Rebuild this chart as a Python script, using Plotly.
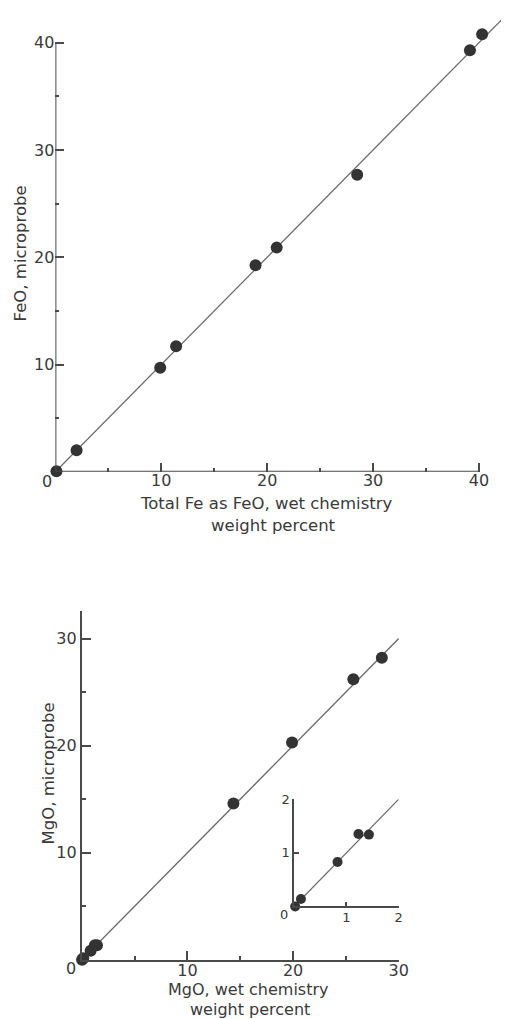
import plotly.graph_objects as go

# ---------------- data ----------------
fe_wet = [0.1, 2.0, 9.9, 11.4, 18.9, 20.9, 28.5, 39.15, 40.3]
fe_probe = [0.05, 2.0, 9.7, 11.7, 19.25, 20.9, 27.7, 39.3, 40.8]

mg_wet = [0.02, 0.13, 0.83, 1.23, 1.43, 14.35, 19.9, 25.7, 28.4]
mg_probe = [0.0, 0.14, 0.83, 1.35, 1.34, 14.6, 20.3, 26.2, 28.2]

mg_inset_wet = [0.02, 0.13, 0.83, 1.23, 1.43]
mg_inset_probe = [0.0, 0.14, 0.83, 1.35, 1.34]

fe_line = [0, 45]
mg_line = [0, 30]
inset_line = [0, 2]

fe_major = [10, 20, 30, 40]
fe_minor = [5, 15, 25, 35]
mg_major = [10, 20, 30]
mg_minor = [5, 15, 25]
inset_major = [1, 2]

W, H = 511, 1019
FONT = "DejaVu Sans"
TXT = "#3a3a3a"
AX = "#4a4a4a"
MK = "#333333"
LN = "#6a6a6a"


def px(p):
    return p / W


def py(p):
    return 1 - p / H


fig = go.Figure()

# 1:1 lines
fig.add_trace(go.Scatter(x=fe_line, y=fe_line, mode="lines",
                         line=dict(color=LN, width=1.3), xaxis="x", yaxis="y"))
fig.add_trace(go.Scatter(x=mg_line, y=mg_line, mode="lines",
                         line=dict(color=LN, width=1.3), xaxis="x2", yaxis="y2"))
fig.add_trace(go.Scatter(x=inset_line, y=inset_line, mode="lines",
                         line=dict(color=LN, width=1.2), xaxis="x3", yaxis="y3"))

# points
fig.add_trace(go.Scatter(x=fe_wet, y=fe_probe, mode="markers", cliponaxis=False,
                         marker=dict(color=MK, size=12), xaxis="x", yaxis="y"))
fig.add_trace(go.Scatter(x=mg_wet, y=mg_probe, mode="markers", cliponaxis=False,
                         marker=dict(color=MK, size=12), xaxis="x2", yaxis="y2"))
fig.add_trace(go.Scatter(x=mg_inset_wet, y=mg_inset_probe, mode="markers", cliponaxis=False,
                         marker=dict(color=MK, size=10), xaxis="x3", yaxis="y3"))

tickfont = dict(family=FONT, size=16, color=TXT)
small_tickfont = dict(family=FONT, size=13, color=TXT)


def axis(domain, rng, major, minor, anchor, showline, tl=9, font=tickfont, lw=2, standoff=0):
    d = dict(domain=domain, range=rng, anchor=anchor, showgrid=False, zeroline=False,
             showline=showline, linecolor=AX, linewidth=lw,
             tickmode="array", tickvals=major, ticktext=[str(v) for v in major],
             ticks="inside", ticklen=tl, tickwidth=1.5, tickcolor=AX,
             tickfont=font, fixedrange=True, ticklabelstandoff=standoff)
    if minor:
        d["minor"] = dict(tickmode="array", tickvals=minor, ticks="inside", ticklen=4,
                          tickwidth=1.5, tickcolor=AX, showgrid=False)
    return d


# top panel (FeO)
x0_top, scale_top = 56.5, 10.8
fig.update_layout(
    xaxis=axis([px(x0_top), 1.0], [0, (W - x0_top) / scale_top], fe_major, fe_minor, "y",
               False, standoff=-3),
    yaxis=axis([py(468), 1.0], [0, 468 / scale_top], fe_major, fe_minor, "x", False),
    xaxis2=axis([px(83.5), px(406.7)], [0, 30], mg_major, mg_minor, "y2", True, standoff=-5),
    yaxis2=axis([py(959.3), py(608)], [0, (959.3 - 608) / 10.78], mg_major, mg_minor, "x2", True),
    xaxis3=axis([px(300), px(406.7)], [0, 2], inset_major, None, "y3", True, tl=5,
                font=small_tickfont, lw=1.5, standoff=-2),
    yaxis3=axis([py(905.7), py(797.7)], [0, 2], inset_major, None, "x3", True, tl=5,
                font=small_tickfont, lw=1.5),
)

# axis lines for top panel (stop at the last tick, as in the original)
fig.add_shape(type="line", xref="x", yref="y", x0=0, y0=0, x1=40, y1=0,
              line=dict(color=AX, width=2))
fig.add_shape(type="line", xref="x", yref="y", x0=0, y0=0, x1=0, y1=40,
              line=dict(color=AX, width=2))

title_font = dict(family=FONT, size=16.5, color=TXT)
title_font_b = dict(family=FONT, size=16, color=TXT)
C = dict(showarrow=False, xanchor="center", yanchor="middle")
ann = []
# origin zero labels
ann.append(dict(x=0, y=0, xref="x", yref="y", text="0", font=tickfont,
                xshift=-8.5, yshift=-10, **C))
ann.append(dict(x=0, y=0, xref="x2", yref="y2", text="0", font=tickfont,
                xshift=-10.5, yshift=-9, **C))
ann.append(dict(x=0, y=0, xref="x3", yref="y3", text="0", font=small_tickfont,
                xshift=-10, yshift=-8, **C))
# axis titles
ann.append(dict(x=px(271.5), y=py(500), xref="paper", yref="paper",
                text="Total Fe as FeO, wet chemistry", font=title_font, **C))
ann.append(dict(x=px(279), y=py(522), xref="paper", yref="paper",
                text="weight percent", font=title_font, **C))
ann.append(dict(x=px(20.5), y=py(248), xref="paper", yref="paper", textangle=-90,
                text="FeO, microprobe", font=title_font, **C))
ann.append(dict(x=px(252.5), y=py(989.5), xref="paper", yref="paper",
                text="MgO, wet chemistry", font=title_font_b, **C))
ann.append(dict(x=px(255), y=py(1009.5), xref="paper", yref="paper",
                text="weight percent", font=title_font_b, **C))
ann.append(dict(x=px(49.7), y=py(772), xref="paper", yref="paper", textangle=-90,
                text="MgO, microprobe", font=title_font, **C))

fig.update_layout(
    annotations=ann,
    width=W, height=H,
    margin=dict(l=0, r=0, t=0, b=0),
    paper_bgcolor="white", plot_bgcolor="white",
    showlegend=False,
    font=dict(family=FONT, color=TXT),
)

fig.write_html("out.html", config={"displayModeBar": False},
               post_script="document.documentElement.style.margin='0';"
                           "document.body.style.margin='0';"
                           "document.body.style.overflow='hidden';")
